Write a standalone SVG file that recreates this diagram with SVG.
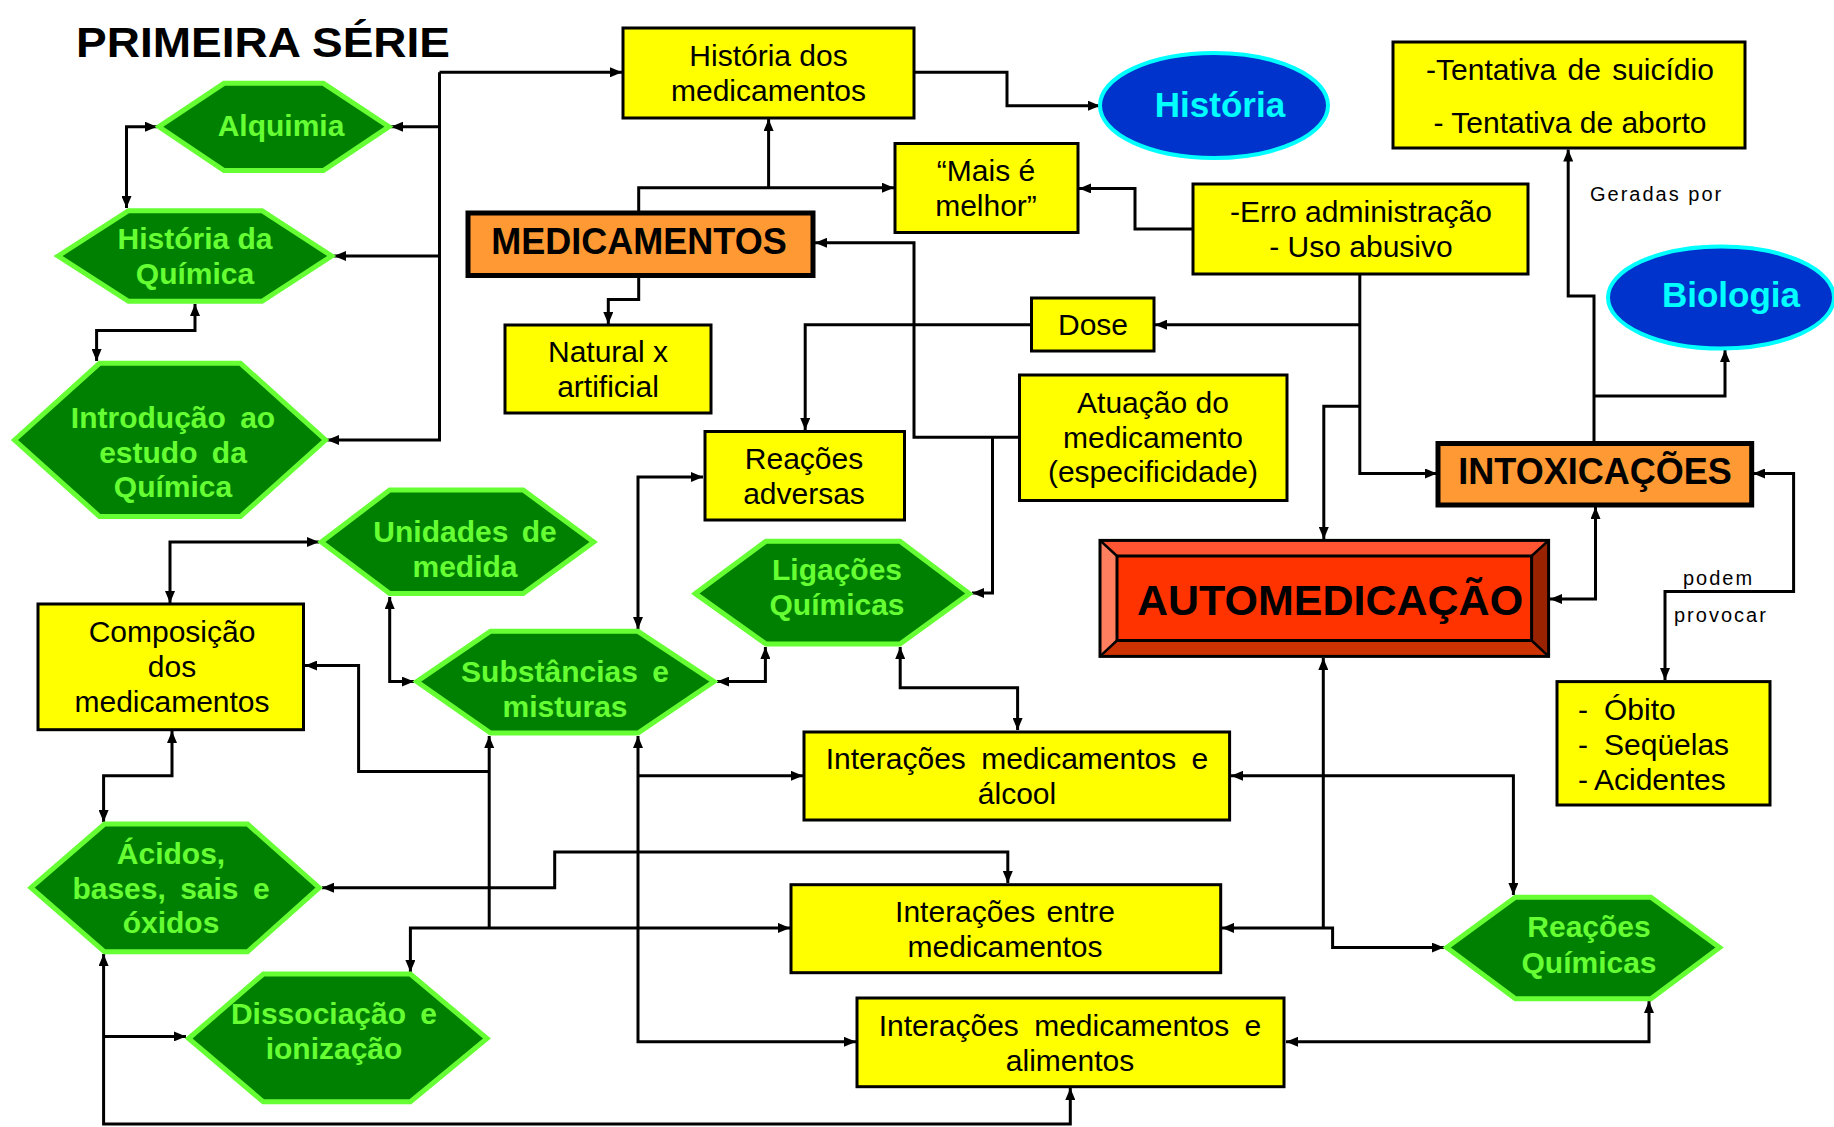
<svg xmlns="http://www.w3.org/2000/svg" width="1834" height="1127" viewBox="0 0 1834 1127">
<style>
.y{fill:#FFFF00;stroke:#000;stroke-width:3}
.o{fill:#FF9933;stroke:#000;stroke-width:5}
.h{fill:#008000;stroke:#66FF33;stroke-width:5;stroke-linejoin:miter}
.el{fill:#0033CC;stroke:#00FFFF;stroke-width:4}
.t{font-family:"Liberation Sans",Arial,sans-serif;font-size:30px;fill:#000;text-anchor:middle}
.g{font-family:"Liberation Sans",Arial,sans-serif;font-size:30px;font-weight:bold;fill:#66FF33;text-anchor:middle}
.big{font-family:"Liberation Sans",Arial,sans-serif;font-weight:bold;fill:#000;text-anchor:middle}
.et{font-family:"Liberation Sans",Arial,sans-serif;font-size:35px;font-weight:bold;fill:#00FFFF;text-anchor:middle}
.lb{font-family:"Liberation Sans",Arial,sans-serif;font-size:20px;fill:#000;letter-spacing:2px}
.c{fill:none;stroke:#000;stroke-width:3}
.e{marker-end:url(#a)}
.b{marker-start:url(#a);marker-end:url(#a)}
.s{marker-start:url(#a)}
</style>
<defs>
<marker id="a" viewBox="0 0 12 10" refX="12" refY="5" markerWidth="12" markerHeight="10" markerUnits="userSpaceOnUse" orient="auto-start-reverse"><path d="M0,0L12,5L0,10z" fill="#000"/></marker>
</defs>
<rect width="1834" height="1127" fill="#fff"/>
<text x="76" y="57" font-family="'Liberation Sans',Arial,sans-serif" font-size="42" font-weight="bold" textLength="374" lengthAdjust="spacingAndGlyphs">PRIMEIRA SÉRIE</text>

<g id="connectors">
<path class="c e" d="M439.5,72.3H622"/>
<path class="c e" d="M439.5,72.3V440H327"/>
<path class="c e" d="M439.5,126.7H391"/>
<path class="c e" d="M439.5,256H334"/>
<path class="c b" d="M157,126.7H126.5V208"/>
<path class="c b" d="M195,304V330.6H96.6V361"/>
<path class="c e" d="M638.7,211V187.7H894"/>
<path class="c e" d="M768.6,187.7V119"/>
<path class="c e" d="M638.7,277V299.6H608.3V324"/>
<path class="c e" d="M914,72.3H1007V105.7H1100"/>
<path class="c e" d="M1192.7,229H1135V188.4H1079"/>
<path class="c e" d="M1359.8,274V473.5H1437"/>
<path class="c e" d="M1359.8,324.7H1155"/>
<path class="c e" d="M1359.8,406.3H1323.8V539"/>
<path class="c e" d="M1031.5,324.7H805.2V430"/>
<path class="c e" d="M1019.5,437.3H914V242.8H815"/>
<path class="c e" d="M992.5,437.3V593H972"/>
<path class="c b" d="M703,477H638V629"/>
<path class="c b" d="M717,681.6H765.4V647"/>
<path class="c b" d="M900.2,647V687.8H1017.6V730"/>
<path class="c b" d="M638,736V1041.8H856"/>
<path class="c e" d="M638,775.8H803"/>
<path class="c s" d="M489.2,736V927.9"/>
<path class="c b" d="M410.4,972V927.9H790"/>
<path class="c s" d="M305,665.6H358.6V771.6H489.2"/>
<path class="c b" d="M170,603V542H319"/>
<path class="c b" d="M389.7,597V681.6H414"/>
<path class="c b" d="M172,731V775.8H103.6V822"/>
<path class="c b" d="M322,887.7H554.7V852H1007.8V883"/>
<path class="c b" d="M103.6,954V1124H1070.3V1088"/>
<path class="c e" d="M103.6,1036.4H186"/>
<path class="c b" d="M1550,599H1595.5V507"/>
<path class="c b" d="M1753,473.5H1793.6V591.5H1665V680"/>
<path class="c e" d="M1594,443V296.1H1568.2V149.5"/>
<path class="c e" d="M1594,396H1725V350"/>
<path class="c s" d="M1323.3,658V927.9"/>
<path class="c b" d="M1222,927.9H1332.6V947.6H1444"/>
<path class="c b" d="M1231,775.8H1513.4V895"/>
<path class="c b" d="M1286,1041.8H1649V1001"/>
</g>

<g id="historia-medicamentos"><rect class="y" x="623" y="28" width="291" height="90"/><text class="t" x="768.5" y="66">História dos</text><text class="t" x="768.5" y="101">medicamentos</text></g>
<g id="historia"><ellipse class="el" cx="1214" cy="105.5" rx="114" ry="52.5"/><text class="et" x="1220" y="117">História</text></g>
<g id="tentativa"><rect class="y" x="1393" y="42" width="352" height="106"/><text class="t" x="1570" y="80" word-spacing="3">-Tentativa de suicídio</text><text class="t" x="1570" y="133">- Tentativa de aborto</text></g>
<text class="lb" x="1590" y="201">Geradas por</text>
<g id="mais-e-melhor"><rect class="y" x="895" y="143.5" width="183" height="89"/><text class="t" x="986" y="181">“Mais é</text><text class="t" x="986" y="216">melhor”</text></g>
<g id="medicamentos"><rect class="o" x="468" y="213" width="345" height="62.5"/><text class="big" x="639" y="254" font-size="36">MEDICAMENTOS</text></g>
<g id="erro"><rect class="y" x="1193" y="184" width="335" height="90"/><text class="t" x="1361" y="222">-Erro administração</text><text class="t" x="1361" y="257">- Uso abusivo</text></g>
<g id="biologia"><ellipse class="el" cx="1721" cy="297.5" rx="113" ry="51"/><text class="et" x="1731" y="306.5">Biologia</text></g>
<g id="dose"><rect class="y" x="1031.5" y="298" width="122.5" height="53"/><text class="t" x="1093" y="335">Dose</text></g>
<g id="natural"><rect class="y" x="505" y="325" width="206" height="88"/><text class="t" x="608" y="362">Natural x</text><text class="t" x="608" y="397">artificial</text></g>
<g id="atuacao"><rect class="y" x="1019.5" y="375" width="267.5" height="125.5"/><text class="t" x="1153" y="413">Atuação do</text><text class="t" x="1153" y="448">medicamento</text><text class="t" x="1153" y="482">(especificidade)</text></g>
<g id="reacoes-adversas"><rect class="y" x="705" y="431.5" width="199.5" height="88.5"/><text class="t" x="804" y="469">Reações</text><text class="t" x="804" y="504">adversas</text></g>
<g id="intoxicacoes"><rect class="o" x="1438" y="443.5" width="313.7" height="61.5"/><text class="big" x="1595" y="484" font-size="36">INTOXICAÇÕES</text></g>
<g id="automedicacao">
<polygon points="1100,540.4 1548.6,540.4 1531.6,556 1117,556" fill="#FF5533"/>
<polygon points="1100,540.4 1117,556 1117,640.5 1100,656.4" fill="#FF7F5F"/>
<polygon points="1548.6,540.4 1548.6,656.4 1531.6,640.5 1531.6,556" fill="#992200"/>
<polygon points="1100,656.4 1117,640.5 1531.6,640.5 1548.6,656.4" fill="#CC3300"/>
<rect x="1117" y="556" width="414.6" height="84.5" fill="#FF3300" stroke="#000" stroke-width="3"/>
<rect x="1100" y="540.4" width="448.6" height="116" fill="none" stroke="#000" stroke-width="3"/>
<path d="M1100,540.4L1117,556M1548.6,540.4L1531.6,556M1100,656.4L1117,640.5M1548.6,656.4L1531.6,640.5" stroke="#000" stroke-width="2.5"/>
<text class="big" x="1330" y="614.5" font-size="43">AUTOMEDICAÇÃO</text></g>
<g id="obito"><rect class="y" x="1557" y="681.6" width="213" height="123.4"/>
<text class="t" style="text-anchor:start" y="720"><tspan x="1578">-</tspan><tspan x="1604">Óbito</tspan></text>
<text class="t" style="text-anchor:start" y="755"><tspan x="1578">-</tspan><tspan x="1604">Seqüelas</tspan></text>
<text class="t" style="text-anchor:start" y="790"><tspan x="1578">-</tspan><tspan x="1594">Acidentes</tspan></text></g>
<text class="lb" x="1683" y="585">podem</text>
<text class="lb" x="1674" y="622">provocar</text>

<g id="alquimia"><polygon class="h" points="159,126.7 224,83.3 323.4,83.3 389,126.7 323.4,170.5 224,170.5"/><text class="g" x="281" y="136">Alquimia</text></g>
<g id="historia-quimica"><polygon class="h" points="58,256 128.5,210.7 262,210.7 331.7,256 262,301.3 128.5,301.3"/><text class="g" x="195" y="249">História da</text><text class="g" x="195" y="284">Química</text></g>
<g id="introducao"><polygon class="h" points="14.5,440 99.5,363.3 240.5,363.3 325.5,440 240.5,516.5 99.5,516.5"/><text class="g" x="173" y="428" word-spacing="6">Introdução ao</text><text class="g" x="173" y="463" word-spacing="6">estudo da</text><text class="g" x="173" y="497">Química</text></g>
<g id="unidades"><polygon class="h" points="321.3,542 389.7,490 523.2,490 593.7,542 523.2,593.6 389.7,593.6"/><text class="g" x="465" y="542" word-spacing="5">Unidades de</text><text class="g" x="465" y="577">medida</text></g>
<g id="composicao"><rect class="y" x="38" y="604" width="265.5" height="125.7"/><text class="t" x="172" y="642">Composição</text><text class="t" x="172" y="677">dos</text><text class="t" x="172" y="712">medicamentos</text></g>
<g id="substancias"><polygon class="h" points="416.7,681.6 490.5,631.3 638,631.3 714,681.6 638,733 490.5,733"/><text class="g" x="565" y="682" word-spacing="6">Substâncias e</text><text class="g" x="565" y="717">misturas</text></g>
<g id="ligacoes"><polygon class="h" points="695.3,593.6 766,541.2 900,541.2 969.4,593.6 900,644 766,644"/><text class="g" x="837" y="580">Ligações</text><text class="g" x="837" y="615">Químicas</text></g>
<g id="alcool"><rect class="y" x="804" y="732" width="425.6" height="88"/><text class="t" x="1017" y="769" word-spacing="7">Interações medicamentos e</text><text class="t" x="1017" y="804">álcool</text></g>
<g id="acidos"><polygon class="h" points="31,887.7 104.5,824 247.5,824 319.2,887.7 247.5,951.8 104.5,951.8"/><text class="g" x="171" y="864">Ácidos,</text><text class="g" x="171" y="899" word-spacing="6">bases, sais e</text><text class="g" x="171" y="933">óxidos</text></g>
<g id="entre"><rect class="y" x="791" y="884.7" width="429.7" height="88"/><text class="t" x="1005" y="922" word-spacing="3">Interações entre</text><text class="t" x="1005" y="957">medicamentos</text></g>
<g id="reacoes-quimicas"><polygon class="h" points="1446.7,947.6 1515.4,897.3 1650.9,897.3 1719.6,947.6 1650.9,998.7 1515.4,998.7"/><text class="g" x="1589" y="937">Reações</text><text class="g" x="1589" y="973">Químicas</text></g>
<g id="dissociacao"><polygon class="h" points="188.6,1038.5 263.3,974 410.4,974 487,1038.5 410.4,1101.8 263.3,1101.8"/><text class="g" x="334" y="1024" word-spacing="6">Dissociação e</text><text class="g" x="334" y="1059">ionização</text></g>
<g id="alimentos"><rect class="y" x="857" y="998" width="427" height="88.7"/><text class="t" x="1070" y="1036" word-spacing="7">Interações medicamentos e</text><text class="t" x="1070" y="1071">alimentos</text></g>
</svg>
